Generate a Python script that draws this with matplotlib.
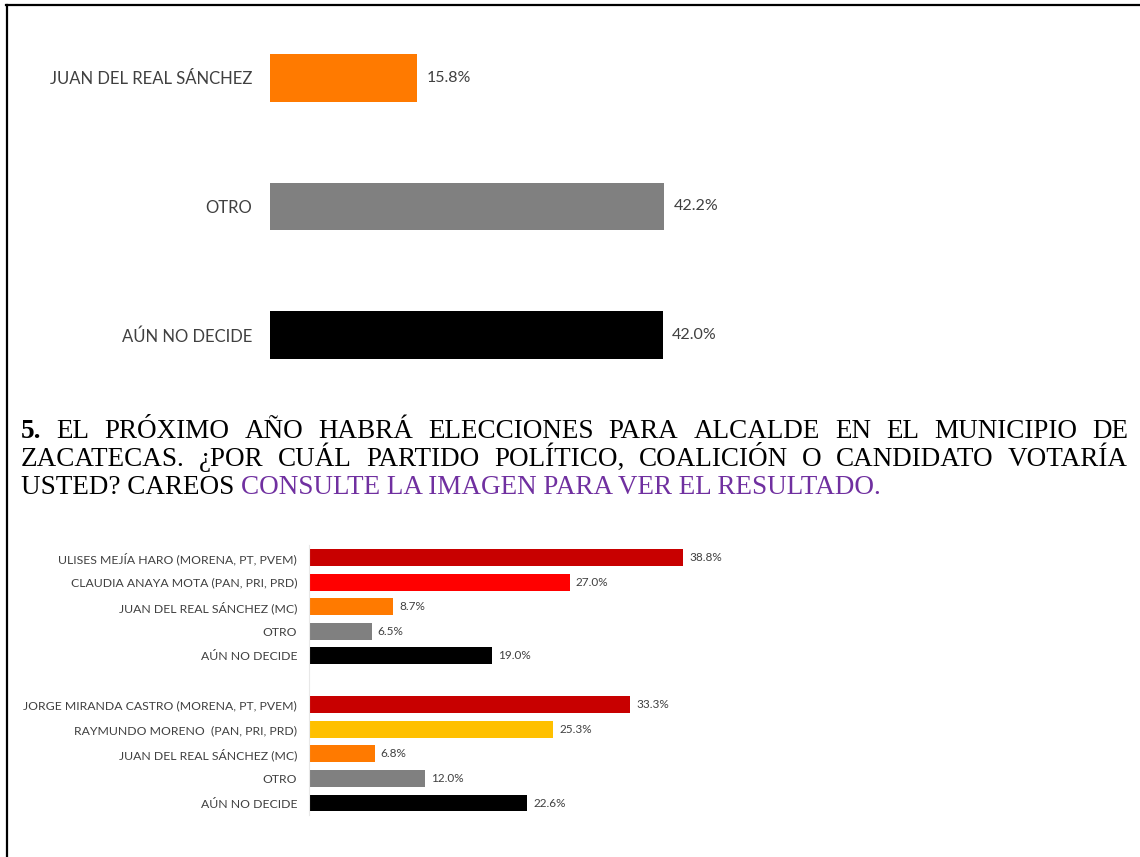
import matplotlib
matplotlib.use('Agg')
from matplotlib import pyplot as plt
from matplotlib.lines import Line2D

# data
top_labels = ['JUAN DEL REAL SÁNCHEZ', 'OTRO', 'AÚN NO DECIDE']
top_values = [15.8, 42.2, 42.0]
top_colors = ['#FF7A00', '#808080', '#000000']

careo1_labels = ['ULISES MEJÍA HARO (MORENA, PT, PVEM)', 'CLAUDIA ANAYA MOTA (PAN, PRI, PRD)',
                 'JUAN DEL REAL SÁNCHEZ (MC)', 'OTRO', 'AÚN NO DECIDE']
careo1_values = [38.8, 27.0, 8.7, 6.5, 19.0]
careo1_colors = ['#C80000', '#FF0000', '#FF7A00', '#808080', '#000000']

careo2_labels = ['JORGE MIRANDA CASTRO (MORENA, PT, PVEM)', 'RAYMUNDO MORENO  (PAN, PRI, PRD)',
                 'JUAN DEL REAL SÁNCHEZ (MC)', 'OTRO', 'AÚN NO DECIDE']
careo2_values = [33.3, 25.3, 6.8, 12.0, 22.6]
careo2_colors = ['#C80000', '#FFC000', '#FF7A00', '#808080', '#000000']

question_lines = [
    '5. EL PRÓXIMO AÑO HABRÁ ELECCIONES PARA ALCALDE EN EL MUNICIPIO DE',
    'ZACATECAS. ¿POR CUÁL PARTIDO POLÍTICO, COALICIÓN O CANDIDATO VOTARÍA',
]
question_last = 'USTED? CAREOS'
question_link = 'CONSULTE LA IMAGEN PARA VER EL RESULTADO.'

W, H = 1140, 857
fig = plt.figure(figsize=(W / 100, H / 100), dpi=100)
label_font = 'Lato'
label_color = '#404040'


def px_axes(x0, y0, x1, y1):
    # axes placed by pixel box measured from the top-left corner
    return fig.add_axes([x0 / W, 1 - y1 / H, (x1 - x0) / W, (y1 - y0) / H])


def clean(ax):
    for s in ax.spines.values():
        s.set_visible(False)
    ax.set_xticks([])
    ax.tick_params(axis='y', length=0)


# page border (top and left only)
fig.add_artist(Line2D([6 / W, 1], [1 - 5 / H, 1 - 5 / H], color='black', lw=1.6,
                      transform=fig.transFigure))
fig.add_artist(Line2D([7 / W, 7 / W], [1 - 5 / H, 0], color='black', lw=1.6,
                      transform=fig.transFigure))

# top chart
ax1 = px_axes(269.5, 13.5, 269.5 + 9.36 * 50, 399.5)
pos1 = list(range(len(top_values)))
ax1.barh(pos1, top_values, height=0.372, color=top_colors)
ax1.set_xlim(0, 50)
ax1.set_ylim(2.5, -0.5)
clean(ax1)
ax1.set_yticks(pos1)
ax1.set_yticklabels(top_labels, fontfamily=label_font, fontsize=12, color=label_color)
ax1.tick_params(axis='y', pad=12.5)
for p, v in zip(pos1, top_values):
    ax1.annotate(f'{v:.1f}%', (v, p), xytext=(6.5, 0), textcoords='offset points',
                 va='center', ha='left', fontfamily=label_font, fontsize=11.5, color=label_color)

# question text, justified like the document
renderer = fig.canvas.get_renderer()
x_left, x_right = 21, 1128
base_y = [438.3, 466.0, 493.7]
q_size = 19.5


def word_width(word, weight='normal'):
    t = fig.text(0, 0, word, fontfamily='Liberation Serif', fontsize=q_size, fontweight=weight)
    w = t.get_window_extent(renderer).width
    t.remove()
    return w


for line, y in zip(question_lines, base_y):
    words = line.split()
    weights = ['bold' if w == '5.' else 'normal' for w in words]
    widths = [word_width(w, wt) for w, wt in zip(words, weights)]
    gap = (x_right - x_left - sum(widths)) / (len(words) - 1)
    x = x_left
    for w, wt, wd in zip(words, weights, widths):
        fig.text(x / W, 1 - y / H, w, fontfamily='Liberation Serif', fontsize=q_size,
                 fontweight=wt, va='baseline', ha='left', color='black')
        x += wd + gap

first_link = question_link.split()[0]
link_x = x_left + word_width(question_last + ' ' + first_link) - word_width(first_link)
fig.text(x_left / W, 1 - base_y[2] / H, question_last, fontfamily='Liberation Serif',
         fontsize=q_size, va='baseline', ha='left', color='black')
fig.text(link_x / W, 1 - base_y[2] / H, question_link,
         fontfamily='Liberation Serif', fontsize=q_size, va='baseline', ha='left',
         color='#7030A0')

# bottom chart: two careos, one empty slot between them
ax2 = px_axes(309, 545.2, 309 + 9.65 * 50, 815.3)
pos2 = list(range(5)) + list(range(6, 11))
vals2 = careo1_values + careo2_values
cols2 = careo1_colors + careo2_colors
labs2 = careo1_labels + careo2_labels
ax2.barh(pos2, vals2, height=0.69, color=cols2)
ax2.set_xlim(0, 50)
ax2.set_ylim(10.5, -0.5)
clean(ax2)
ax2.spines['left'].set_visible(True)
ax2.spines['left'].set_color('#e8e8e8')
ax2.set_yticks(pos2)
ax2.set_yticklabels(labs2, fontfamily=label_font, fontsize=8.8, color=label_color)
ax2.tick_params(axis='y', pad=8.5)
for p, v in zip(pos2, vals2):
    ax2.annotate(f'{v:.1f}%', (v, p), xytext=(4.3, 0), textcoords='offset points',
                 va='center', ha='left', fontfamily=label_font, fontsize=8.5, color=label_color)

fig.savefig('out.png', dpi=100)
